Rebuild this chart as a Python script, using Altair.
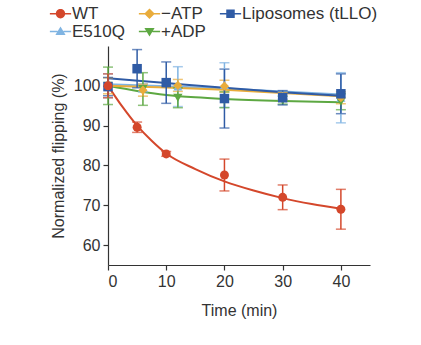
import altair as alt
import pandas as pd

# ---------------- data ----------------
# legend order (filled column by column): WT, E510Q | −ATP, +ADP | Liposomes
series_order = ["WT", "E510Q", "−ATP", "+ADP", "Liposomes (tLLO)"]
series_colors = ["#D4472B", "#80B4E2", "#E9AC3B", "#5DA842", "#2F5BA5"]
marker_codes = ["m-circle", "m-tri-up", "m-diamond", "m-tri-down", "m-square"]
series_marks = ["circle", "triangle-up", "diamond", "triangle-down", "square"]
series_sizes = [80, 90, 95, 90, 80]

wt_time = [0, 5, 10, 20, 30, 40]
wt_flip = [100.0, 89.6, 82.9, 77.6, 72.0, 69.0]
wt_err = [3.0, 1.3, 0.6, 4.0, 3.1, 5.0]

atp_time = [0, 6, 12, 20, 30, 40]
atp_flip = [100.0, 98.9, 100.1, 99.9, 97.3, 97.0]
atp_err = [2.0, 1.5, 1.5, 1.5, 1.0, 1.5]

lipo_time = [0, 5, 10, 20, 30, 40]
lipo_flip = [99.8, 104.3, 100.8, 96.8, 97.0, 98.0]
lipo_err = [2.3, 4.8, 5.2, 7.4, 1.8, 5.0]

e510q_time = [0, 6, 12, 20, 30, 40]
e510q_flip = [100.0, 99.5, 99.8, 100.2, 97.6, 97.0]
e510q_err = [3.0, 1.0, 5.0, 5.6, 1.0, 6.3]

adp_time = [0, 6, 12, 20, 30, 40]
adp_flip = [100.0, 99.2, 97.0, 96.5, 96.4, 96.0]
adp_err = [4.7, 4.1, 2.5, 2.0, 1.0, 2.0]

# fitted curves
wt_fit_time = [0, 2.5, 5, 7.5, 10, 15, 20, 25, 30, 35, 40]
wt_fit_flip = [100.0, 94.7, 90.0, 86.2, 83.0, 79.1, 76.0, 73.7, 71.8, 70.3, 69.1]
lipo_fit_time = [0, 10, 20, 30, 40]
lipo_fit_flip = [101.9, 100.7, 99.5, 98.4, 97.5]
e510q_fit_time = [0, 10, 20, 30, 40]
e510q_fit_flip = [100.4, 99.9, 99.3, 98.6, 97.8]
atp_fit_time = [0, 10, 20, 30, 40]
atp_fit_flip = [100.0, 99.6, 99.0, 98.2, 97.4]
adp_fit_time = [0, 5, 10, 15, 20, 30, 40]
adp_fit_flip = [100.0, 98.7, 97.7, 97.1, 96.7, 96.2, 95.9]

x_ticks = [0, 10, 20, 30, 40]
y_ticks = [60, 70, 80, 90, 100]

# ---------------- tables ----------------
code_of = dict(zip(series_order, marker_codes))
draw_order = [
    ("E510Q", e510q_time, e510q_flip, e510q_err),
    ("+ADP", adp_time, adp_flip, adp_err),
    ("−ATP", atp_time, atp_flip, atp_err),
    ("Liposomes (tLLO)", lipo_time, lipo_flip, lipo_err),
    ("WT", wt_time, wt_flip, wt_err),
]
rows = []
for name, ts, ys, es in draw_order:
    for t, y, e in zip(ts, ys, es):
        rows.append({"series": name, "marker": code_of[name], "t": t, "flip": y,
                     "lo": y - e, "hi": y + e})
pts = pd.DataFrame(rows)

fit_rows = []
for name, ts, ys in [
    ("E510Q", e510q_fit_time, e510q_fit_flip),
    ("+ADP", adp_fit_time, adp_fit_flip),
    ("−ATP", atp_fit_time, atp_fit_flip),
    ("Liposomes (tLLO)", lipo_fit_time, lipo_fit_flip),
    ("WT", wt_fit_time, wt_fit_flip),
]:
    for t, y in zip(ts, ys):
        fit_rows.append({"series": name, "t": t, "flip": y})
fits = pd.DataFrame(fit_rows)

# ---------------- legend symbols (marker with a line through it) ----------------
legend_paths = {
    "WT": "M-1.25,-0.1L-0.5,-0.1L-0.5,0.1L-1.25,0.1Z "
          "M0.5,-0.1L1.25,-0.1L1.25,0.1L0.5,0.1Z "
          "M-0.55,0A0.55,0.55,0,1,1,0.55,0A0.55,0.55,0,1,1,-0.55,0Z",
    "−ATP": "M-1.25,-0.1L-0.55,-0.1L-0.55,0.1L-1.25,0.1Z "
            "M0.55,-0.1L1.25,-0.1L1.25,0.1L0.55,0.1Z "
            "M0,-0.62L0.62,0L0,0.62L-0.62,0Z",
    "Liposomes (tLLO)": "M-1.25,-0.1L-0.5,-0.1L-0.5,0.1L-1.25,0.1Z "
                        "M0.5,-0.1L1.25,-0.1L1.25,0.1L0.5,0.1Z "
                        "M-0.5,-0.5L0.5,-0.5L0.5,0.5L-0.5,0.5Z",
    "E510Q": "M-1.25,-0.1L-0.35,-0.1L-0.35,0.1L-1.25,0.1Z "
             "M0.35,-0.1L1.25,-0.1L1.25,0.1L0.35,0.1Z "
             "M0,-0.58L0.6,0.42L-0.6,0.42Z",
    "+ADP": "M-1.25,-0.1L-0.35,-0.1L-0.35,0.1L-1.25,0.1Z "
            "M0.35,-0.1L1.25,-0.1L1.25,0.1L0.35,0.1Z "
            "M0,0.58L-0.6,-0.42L0.6,-0.42Z",
}
expr = " : ".join(
    f"datum.value === '{k}' ? '{v}'" for k, v in legend_paths.items()
) + " : 'circle'"

FONT = "Liberation Sans"
legend = alt.Legend(
    title=None,
    orient="none",
    legendX=-56,
    legendY=-41,
    columns=3,
    symbolSize=289,
    symbolStrokeWidth=0,
    symbolOpacity=1,
    symbolType=alt.ExprRef(expr=expr),
    labelFont=FONT,
    labelFontSize=17,
    labelColor="#333333",
    labelOffset=3,
    columnPadding=13,
    rowPadding=0,
    padding=0,
)

color_scale = alt.Scale(domain=series_order, range=series_colors)
color_nolegend = alt.Color("series:N", scale=color_scale, legend=None)
color_legend = alt.Color("series:N", scale=color_scale, legend=legend)

x_enc = alt.X(
    "t:Q",
    scale=alt.Scale(domain=[0, 45], nice=False),
    axis=alt.Axis(values=x_ticks, title="Time (min)", grid=False, titlePadding=13),
)
y_axis = alt.Axis(values=y_ticks, title="Normalized flipping (%)", grid=False, titlePadding=7)
y_scale = alt.Scale(domain=[55, 110], nice=False, zero=False)

# layer that only carries the legend (tiny marks hidden under the real markers)
legend_layer = alt.Chart(pts).mark_point(filled=True, size=1, opacity=1).encode(
    x=x_enc,
    y=alt.Y("flip:Q", scale=y_scale, axis=y_axis),
    color=color_legend,
)

lines = alt.Chart(fits).mark_line(strokeWidth=2, interpolate="monotone").encode(
    x=x_enc,
    y=alt.Y("flip:Q", scale=y_scale, axis=y_axis),
    color=color_nolegend,
    detail="series:N",
)

bars = alt.Chart(pts).mark_errorbar(ticks=True, size=10, thickness=1.5).encode(
    x=x_enc,
    y=alt.Y("lo:Q", scale=y_scale, axis=y_axis),
    y2="hi:Q",
    color=color_nolegend,
)

points = alt.Chart(pts).mark_point(filled=True, opacity=1).encode(
    x=x_enc,
    y=alt.Y("flip:Q", scale=y_scale, axis=y_axis),
    color=color_nolegend,
    shape=alt.Shape("marker:N", scale=alt.Scale(domain=marker_codes, range=series_marks), legend=None),
    size=alt.Size("marker:N", scale=alt.Scale(domain=marker_codes, range=series_sizes), legend=None),
)

chart = (
    alt.layer(legend_layer, lines, bars, points)
    .properties(
        width=262,
        height=219,
        autosize=alt.AutoSizeParams(type="none"),
        padding={"left": 108, "top": 46, "right": 51, "bottom": 80},
        background="white",
    )
    .configure_view(stroke=None)
    .configure_axis(
        labelFont=FONT,
        labelFontSize=16,
        labelColor="#333333",
        labelPadding=3,
        titleFont=FONT,
        titleFontSize=16,
        titleFontWeight="normal",
        titleColor="#333333",
        domainColor="#333333",
        domainWidth=1.2,
        tickColor="#333333",
        tickSize=5,
        tickWidth=1.2,
    )
)

chart.save("out.html", embed_options={"renderer": "svg", "actions": False})
